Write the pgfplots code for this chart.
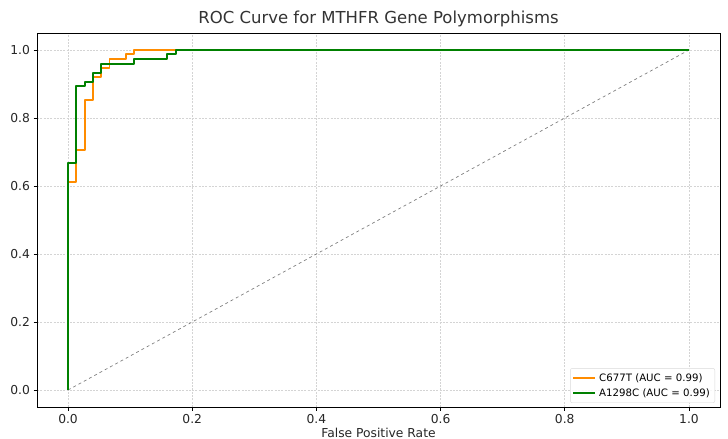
\documentclass[border=0pt]{standalone}
\usepackage{fontspec}
\setmainfont{DejaVu Sans}
\usepackage{pgfplots}
\pgfplotsset{compat=1.18}

\definecolor{roccA}{HTML}{FF8C00}
\definecolor{roccB}{HTML}{008000}
\definecolor{gridc}{HTML}{D4D4D4}

\begin{document}
\begin{tikzpicture}[x=1bp,y=1bp]
\useasboundingbox (-37bp,-32bp) rectangle (691bp,407bp);
\begin{axis}[
  at={(0,0)}, anchor=south west,
  scale only axis, width=683bp, height=374bp,
  xmin=-0.05, xmax=1.05, ymin=-0.05, ymax=1.05,
  xtick={0,0.2,...,1.0}, ytick={0,0.2,...,1.0},
  /pgf/number format/assume math mode=true,
  /pgf/number format/.cd, fixed, fixed zerofill, precision=1, /pgfplots/.cd,
  tick label style={font=\fontsize{12.3bp}{14bp}\selectfont, text=black!85},
  tick align=outside, xtick pos=bottom, ytick pos=left,
  major tick length=3.5bp,
  tick style={black, line width=0.6bp},
  axis line style={black, line width=0.8bp},
  grid=major,
  grid style={gridc, dash pattern=on 2bp off 1.3bp, line width=0.6bp},
  title={ROC Curve for MTHFR Gene Polymorphisms},
  title style={font=\fontsize{16.5bp}{19bp}\selectfont, text=black!80, yshift=-3bp},
  xlabel={False Positive Rate},
  xlabel style={font=\fontsize{12.3bp}{14bp}\selectfont, text=black!85, yshift=2bp},
  legend style={at={(1,0)}, anchor=south east, xshift=-5bp, yshift=4bp,
    font=\fontsize{10.2bp}{12.5bp}\selectfont, draw=black!15, rounded corners=2bp,
    fill=white, fill opacity=0.85, text opacity=1, inner xsep=2bp, inner ysep=3bp,
    row sep=2bp, nodes={inner xsep=3bp}},
  legend cell align=left,
  legend image code/.code={\draw[#1] (0bp,0bp) -- (22bp,0bp);},
]
\addplot[gray, dashed, line width=0.7bp, forget plot] coordinates {(0,0) (1,1)};
\addplot[roccA, line width=1.9bp, line join=round] coordinates {
  (0,0) (0,0.613) (0.0133,0.613) (0.0133,0.707) (0.0267,0.707) (0.0267,0.853)
  (0.04,0.853) (0.04,0.92) (0.0533,0.92) (0.0533,0.947) (0.0667,0.947)
  (0.0667,0.973) (0.0933,0.973) (0.0933,0.987) (0.1067,0.987) (0.1067,1) (1,1)};
\addlegendentry{C677T (AUC = 0.99)}
\addplot[roccB, line width=1.9bp, line join=round] coordinates {
  (0,0) (0,0.667) (0.0133,0.667) (0.0133,0.893) (0.0267,0.893) (0.0267,0.907)
  (0.04,0.907) (0.04,0.933) (0.0533,0.933) (0.0533,0.96) (0.1067,0.96)
  (0.1067,0.973) (0.16,0.973) (0.16,0.987) (0.1733,0.987) (0.1733,1) (1,1)};
\addlegendentry{A1298C (AUC = 0.99)}
\end{axis}
\end{tikzpicture}
\end{document}
